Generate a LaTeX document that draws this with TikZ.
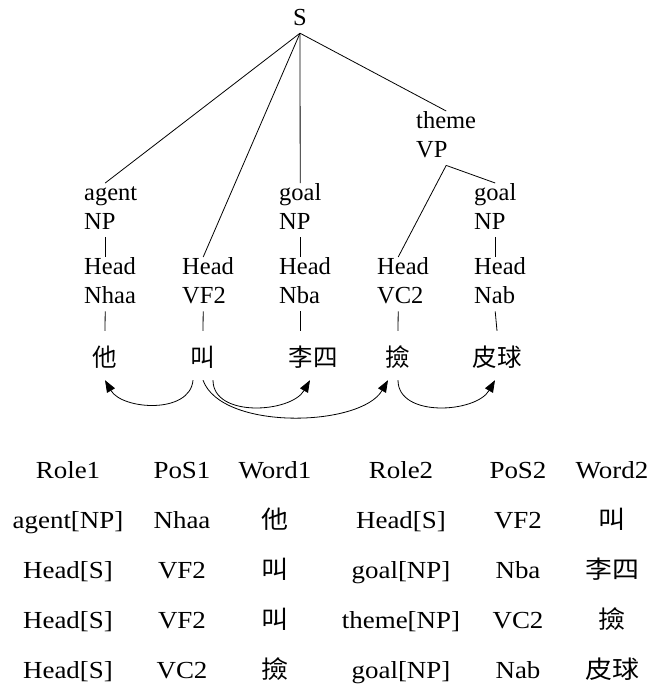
\documentclass[tikz,border=0pt]{standalone}
\usepackage{fontspec}
\setmainfont{Liberation Serif}
\newfontfamily\cjk{Noto Sans CJK TC}
\usepackage{graphicx}
\usetikzlibrary{arrows.meta}
\newcommand\tstr{\rule[-8pt]{0pt}{25pt}}
\newcommand\sx[1]{\scalebox{1.1}[1]{#1}}
\begin{document}
\begin{tikzpicture}[x=1pt,y=1pt,
  every node/.style={inner sep=0pt, font=\fontsize{24.5}{29}\selectfont},
  tnode/.style={anchor=north west, text width=42pt, align=left},
  word/.style={anchor=base, font=\fontsize{24.5}{29}\selectfont\cjk, text height=21pt, text depth=0pt, inner ysep=14pt},
  edge/.style={line width=0.8pt},
  dep/.style={line width=0.8pt, -{Triangle[length=12pt,width=9pt]}},
  cell/.style={anchor=base},
  ccell/.style={anchor=base, font=\fontsize{24.5}{29}\selectfont\cjk}
]
\useasboundingbox (0,0) rectangle (650,-686);

% tree nodes
\node (S) [anchor=base] at (300,-25) {S\tstr};
\node (n1) [tnode] at (84,-183) {\tstr\rlap{agent}\\\tstr\rlap{NP}};
\node (h1) [tnode] at (84,-257) {\tstr\rlap{Head}\\\tstr\rlap{Nhaa}};
\node (h2) [tnode] at (182,-257) {\tstr\rlap{Head}\\\tstr\rlap{VF2}};
\node (n3) [tnode] at (279,-183) {\tstr\rlap{goal}\\\tstr\rlap{NP}};
\node (h3) [tnode] at (279,-257) {\tstr\rlap{Head}\\\tstr\rlap{Nba}};
\node (vp) [tnode, text width=60pt] at (416,-111) {\tstr\rlap{theme}\\\tstr\rlap{VP}};
\node (h4) [tnode] at (377,-257) {\tstr\rlap{Head}\\\tstr\rlap{VC2}};
\node (n5) [tnode] at (474,-183) {\tstr\rlap{goal}\\\tstr\rlap{NP}};
\node (h5) [tnode] at (474,-257) {\tstr\rlap{Head}\\\tstr\rlap{Nab}};

% words
\node (w1) [word] at (105,-366) {他};
\node (w2) [word] at (203,-366) {叫};
\node (w3) [word] at (313,-366) {李四};
\node (w4) [word] at (398,-366) {撿};
\node (w5) [word] at (497,-366) {皮球};

% tree edges
\draw[edge] (S.south) -- (n1.north);
\draw[edge] (S.south) -- (h2.north);
\draw[edge] (S.south) -- (n3.north);
\draw[edge] (S.south) -- (vp.north);
\draw[edge] (n1.south) -- (h1.north);
\draw[edge] (n3.south) -- (h3.north);
\draw[edge] (vp.south) -- (h4.north);
\draw[edge] (vp.south) -- (n5.north);
\draw[edge] (n5.south) -- (h5.north);
\draw[edge] (h1.south) -- (w1.north);
\draw[edge] (h2.south) -- (w2.north);
\draw[edge] (h3.south) -- (h3.south |- w3.north);
\draw[edge] (h4.south) -- (w4.north);
\draw[edge] (h5.south) -- (w5.north);

% dependency arcs
\draw[dep] ([xshift=-10pt]w2.south) to[out=-95,in=-60] (w1.south);
\draw[dep] ([xshift=10pt]w2.south) to[out=-90,in=-120] ([xshift=-3pt]w3.south);
\draw[dep] (w2.south) to[out=-70,in=-120,looseness=0.75] ([xshift=-10pt]w4.south);
\draw[dep] (w4.south) to[out=-90,in=-120] ([xshift=-2pt]w5.south);

% table
\node[cell] (c01) at (68,-478) {\sx{Role1}};
\node[cell] (c02) at (182,-478) {\sx{PoS1}};
\node[cell] (c03) at (275,-478) {\sx{Word1}};
\node[cell] (c04) at (401,-478) {\sx{Role2}};
\node[cell] (c05) at (518,-478) {\sx{PoS2}};
\node[cell] (c06) at (612,-478) {\sx{Word2}};

\node[cell] (c11) at (68,-528) {\sx{agent[NP]}};
\node[cell] (c12) at (182,-528) {\sx{Nhaa}};
\node[ccell] (c13) at (275,-528) {\sx{他}};
\node[cell] (c14) at (401,-528) {\sx{Head[S]}};
\node[cell] (c15) at (518,-528) {\sx{VF2}};
\node[ccell] (c16) at (612,-528) {\sx{叫}};

\node[cell] (c21) at (68,-578) {\sx{Head[S]}};
\node[cell] (c22) at (182,-578) {\sx{VF2}};
\node[ccell] (c23) at (275,-578) {\sx{叫}};
\node[cell] (c24) at (401,-578) {\sx{goal[NP]}};
\node[cell] (c25) at (518,-578) {\sx{Nba}};
\node[ccell] (c26) at (612,-578) {\sx{李四}};

\node[cell] (c31) at (68,-628) {\sx{Head[S]}};
\node[cell] (c32) at (182,-628) {\sx{VF2}};
\node[ccell] (c33) at (275,-628) {\sx{叫}};
\node[cell] (c34) at (401,-628) {\sx{theme[NP]}};
\node[cell] (c35) at (518,-628) {\sx{VC2}};
\node[ccell] (c36) at (612,-628) {\sx{撿}};

\node[cell] (c41) at (68,-678) {\sx{Head[S]}};
\node[cell] (c42) at (182,-678) {\sx{VC2}};
\node[ccell] (c43) at (275,-678) {\sx{撿}};
\node[cell] (c44) at (401,-678) {\sx{goal[NP]}};
\node[cell] (c45) at (518,-678) {\sx{Nab}};
\node[ccell] (c46) at (612,-678) {\sx{皮球}};
\end{tikzpicture}
\end{document}
